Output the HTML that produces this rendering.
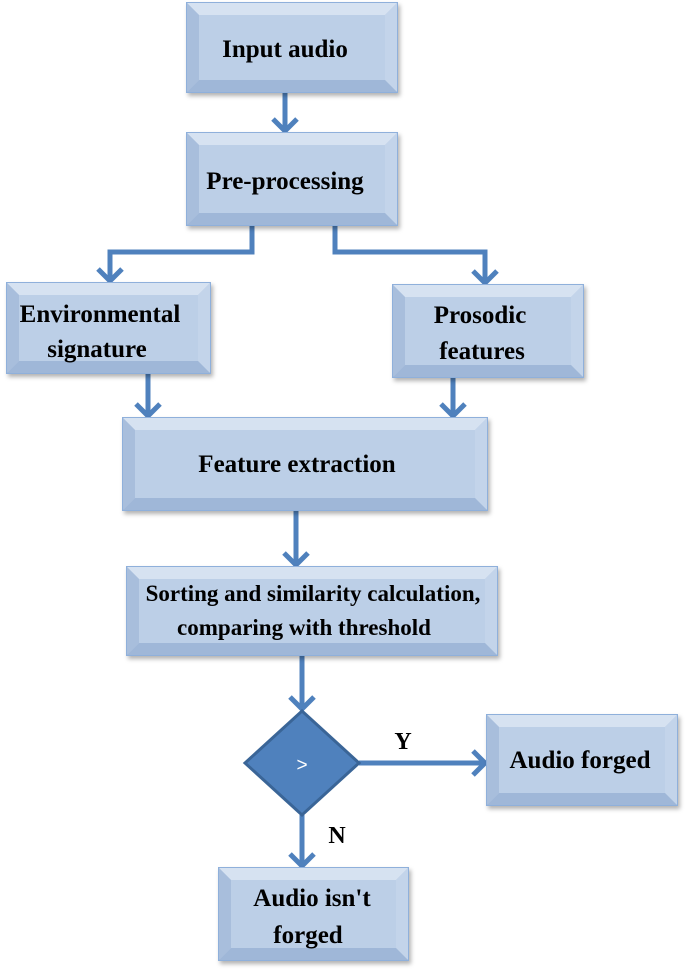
<!DOCTYPE html>
<html><head><style>body{margin:0;background:#fff}svg{display:block}</style></head><body>
<svg width="685" height="974" viewBox="0 0 685 974" xmlns="http://www.w3.org/2000/svg" font-family="Liberation Serif, serif" font-weight="bold" font-size="25">
<defs>
<filter id="s" x="-10%" y="-10%" width="125%" height="130%"><feDropShadow dx="2" dy="3" stdDeviation="2" flood-color="#000" flood-opacity="0.3"/></filter>
</defs>
<g stroke="#4f81bd" stroke-width="5" fill="none">
<path d="M285 92V131M273 119L285 131L297 119"/>
<path d="M252 225V252H110V281M98 269L110 281L122 269"/>
<path d="M335 225V252H485V283M473 271L485 283L497 271"/>
<path d="M148 373V416M136 404L148 416L160 404"/>
<path d="M453 377V416M441 404L453 416L465 404"/>
<path d="M296 510V565M284 553L296 565L308 553"/>
<path d="M302 655V709M290 697L302 709L314 697"/>
<path d="M359 763H485M473 751L485 763L473 775"/>
<path d="M302 815V866M290 854L302 866L314 854"/>
</g>
<g filter="url(#s)">
<rect x="187" y="3" width="210" height="89" fill="#b9cce5" stroke="#8fb0db" stroke-width="2"/>
<polygon points="187,3 397,3 385,15 199,15" fill="#d6e2f1"/><polygon points="187,3 199,15 199,80 187,92" fill="#a8bedc"/><polygon points="397,3 397,92 385,80 385,15" fill="#c3d4ea"/><polygon points="187,92 397,92 385,80 199,80" fill="#9fb7d8"/>
<rect x="199" y="15" width="186" height="65" fill="#bccfe7"/>
</g>
<g filter="url(#s)">
<rect x="187" y="133" width="210" height="92" fill="#b9cce5" stroke="#8fb0db" stroke-width="2"/>
<polygon points="187,133 397,133 385,145 199,145" fill="#d6e2f1"/><polygon points="187,133 199,145 199,213 187,225" fill="#a8bedc"/><polygon points="397,133 397,225 385,213 385,145" fill="#c3d4ea"/><polygon points="187,225 397,225 385,213 199,213" fill="#9fb7d8"/>
<rect x="199" y="145" width="186" height="68" fill="#bccfe7"/>
</g>
<g filter="url(#s)">
<rect x="7" y="283" width="203" height="90" fill="#b9cce5" stroke="#8fb0db" stroke-width="2"/>
<polygon points="7,283 210,283 198,295 19,295" fill="#d6e2f1"/><polygon points="7,283 19,295 19,361 7,373" fill="#a8bedc"/><polygon points="210,283 210,373 198,361 198,295" fill="#c3d4ea"/><polygon points="7,373 210,373 198,361 19,361" fill="#9fb7d8"/>
<rect x="19" y="295" width="179" height="66" fill="#bccfe7"/>
</g>
<g filter="url(#s)">
<rect x="393" y="285" width="190" height="92" fill="#b9cce5" stroke="#8fb0db" stroke-width="2"/>
<polygon points="393,285 583,285 571,297 405,297" fill="#d6e2f1"/><polygon points="393,285 405,297 405,365 393,377" fill="#a8bedc"/><polygon points="583,285 583,377 571,365 571,297" fill="#c3d4ea"/><polygon points="393,377 583,377 571,365 405,365" fill="#9fb7d8"/>
<rect x="405" y="297" width="166" height="68" fill="#bccfe7"/>
</g>
<g filter="url(#s)">
<rect x="123" y="418" width="364" height="92" fill="#b9cce5" stroke="#8fb0db" stroke-width="2"/>
<polygon points="123,418 487,418 475,430 135,430" fill="#d6e2f1"/><polygon points="123,418 135,430 135,498 123,510" fill="#a8bedc"/><polygon points="487,418 487,510 475,498 475,430" fill="#c3d4ea"/><polygon points="123,510 487,510 475,498 135,498" fill="#9fb7d8"/>
<rect x="135" y="430" width="340" height="68" fill="#bccfe7"/>
</g>
<g filter="url(#s)">
<rect x="127" y="567" width="370" height="88" fill="#b9cce5" stroke="#8fb0db" stroke-width="2"/>
<polygon points="127,567 497,567 485,579 139,579" fill="#d6e2f1"/><polygon points="127,567 139,579 139,643 127,655" fill="#a8bedc"/><polygon points="497,567 497,655 485,643 485,579" fill="#c3d4ea"/><polygon points="127,655 497,655 485,643 139,643" fill="#9fb7d8"/>
<rect x="139" y="579" width="346" height="64" fill="#bccfe7"/>
</g>
<g filter="url(#s)">
<rect x="487" y="715" width="190" height="90" fill="#b9cce5" stroke="#8fb0db" stroke-width="2"/>
<polygon points="487,715 677,715 665,727 499,727" fill="#d6e2f1"/><polygon points="487,715 499,727 499,793 487,805" fill="#a8bedc"/><polygon points="677,715 677,805 665,793 665,727" fill="#c3d4ea"/><polygon points="487,805 677,805 665,793 499,793" fill="#9fb7d8"/>
<rect x="499" y="727" width="166" height="66" fill="#bccfe7"/>
</g>
<g filter="url(#s)">
<rect x="219" y="868" width="189" height="92" fill="#b9cce5" stroke="#8fb0db" stroke-width="2"/>
<polygon points="219,868 408,868 396,880 231,880" fill="#d6e2f1"/><polygon points="219,868 231,880 231,948 219,960" fill="#a8bedc"/><polygon points="408,868 408,960 396,948 396,880" fill="#c3d4ea"/><polygon points="219,960 408,960 396,948 231,948" fill="#9fb7d8"/>
<rect x="231" y="880" width="165" height="68" fill="#bccfe7"/>
</g>
<polygon points="302,711 359,763 302,815 245,763" fill="#4f81bd" stroke="#3a6597" stroke-width="3"/>
<text x="302" y="771" fill="#fff" font-weight="normal" font-family="Liberation Sans, sans-serif" font-size="19" text-anchor="middle">&gt;</text>
<g fill="#000" text-anchor="middle">
<text x="285" y="57">Input audio</text>
<text x="285" y="189">Pre-processing</text>
<text x="100" y="322">Environmental</text>
<text x="97" y="357">signature</text>
<text x="480" y="323">Prosodic</text>
<text x="482" y="359">features</text>
<text x="297" y="472">Feature extraction</text>
<text x="313" y="601" font-size="23">Sorting and similarity calculation,</text>
<text x="304" y="635" font-size="23">comparing with threshold</text>
<text x="580" y="768">Audio forged</text>
<text x="312" y="906">Audio isn't</text>
<text x="308" y="943">forged</text>
<text x="403" y="749" font-size="24">Y</text>
<text x="337" y="843" font-size="24">N</text>
</g>
</svg>
</body></html>
